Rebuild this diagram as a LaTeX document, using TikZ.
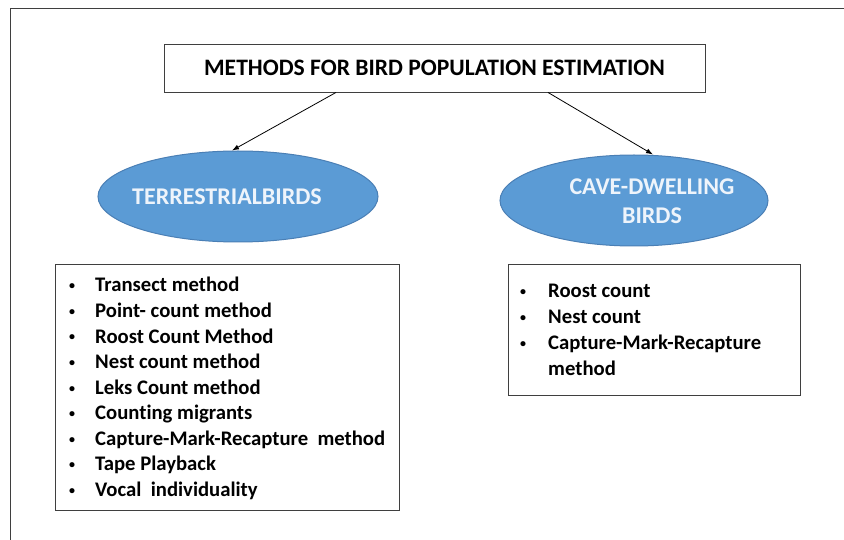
\documentclass[tikz,border=0pt]{standalone}
\usepackage{fontspec}
\setmainfont{Carlito}[Ligatures=CommonOff]
\usetikzlibrary{arrows.meta,shapes.geometric}
\definecolor{ellfill}{HTML}{5B9BD5}
\definecolor{elldraw}{HTML}{4A7FB5}
\definecolor{framecol}{HTML}{3F3F3F}
\definecolor{elltext}{HTML}{EEF4FB}
\newcommand{\bul}[1]{\makebox[#1][l]{\hspace*{1pt}\raisebox{2pt}{\fontsize{12}{12}\selectfont\textbullet}}}
\begin{document}
\begin{tikzpicture}[x=1pt,y=-1pt,
  boxline/.style={draw=framecol,line width=0.9pt},
  ellbox/.style={ellipse,fill=ellfill,draw=elldraw,line width=1pt,inner sep=0pt,minimum height=91pt},
  elltxt/.style={text=elltext,font=\fontsize{24}{29}\selectfont\bfseries,align=center,inner sep=0pt},
  titlebox/.style={boxline,fill=white,minimum width=541pt,minimum height=48pt,inner sep=0pt,font=\fontsize{23.6}{26}\selectfont\bfseries},
  listbox/.style={boxline,fill=white,inner sep=0pt},
  item/.style={anchor=base west,inner sep=0pt,font=\fontsize{20.7}{24}\selectfont\bfseries},
  arr/.style={draw=black,line width=0.8pt,-{Latex[length=7pt,width=5pt]}}]
\useasboundingbox (0,0) rectangle (844,540);
\fill[white] (0,0) rectangle (844,540);
% outer frame (only top and left edges visible)
\draw[boxline] (10,540) -- (10,8) -- (844,8);
% title
\node[titlebox] (title) at (434.5,68) {METHODS FOR BIRD POPULATION ESTIMATION};
% ellipses
\node[ellbox,minimum width=280pt] (terr) at (238,196.5) {};
\node[elltxt] (terrtext) at (227,197) {TERRESTRIALBIRDS};
\node[ellbox,minimum width=268pt] (cave) at (634,200.5) {};
\node[elltxt] (cavetext) at (652,201) {CAVE-DWELLING\\BIRDS};
% arrows
\draw[arr] ([xshift=-98.5pt]title.south) -- ([xshift=-6pt]terr.north);
\draw[arr] ([xshift=113.5pt]title.south) -- ([xshift=19pt]cave.north);
% list boxes
\node[listbox,minimum width=344pt,minimum height=246pt] (leftlist) at (227,387) {};
\node[listbox,minimum width=292pt,minimum height=131pt] (rightlist) at (654,329.5) {};
% left list items
\node[item] (l1) at (68,292) {\bul{27pt}Transect method};
\node[item] (l2) at (68,317.5) {\bul{27pt}Point- count method};
\node[item] (l3) at (68,343) {\bul{27pt}Roost Count Method};
\node[item] (l4) at (68,368.5) {\bul{27pt}Nest count method};
\node[item] (l5) at (68,394) {\bul{27pt}Leks Count method};
\node[item] (l6) at (68,419.5) {\bul{27pt}Counting migrants};
\node[item] (l7) at (68,445) {\bul{27pt}Capture-Mark-Recapture\ \ method};
\node[item] (l8) at (68,470.5) {\bul{27pt}Tape Playback};
\node[item] (l9) at (68,496) {\bul{27pt}Vocal\ \ individuality};
% right list items
\node[item] (r1) at (519,298) {\bul{29pt}Roost count};
\node[item] (r2) at (519,323.7) {\bul{29pt}Nest count};
\node[item] (r3) at (519,349.4) {\bul{29pt}Capture-Mark-Recapture};
\node[item] (r4) at (548,375) {method};
\end{tikzpicture}
\end{document}
